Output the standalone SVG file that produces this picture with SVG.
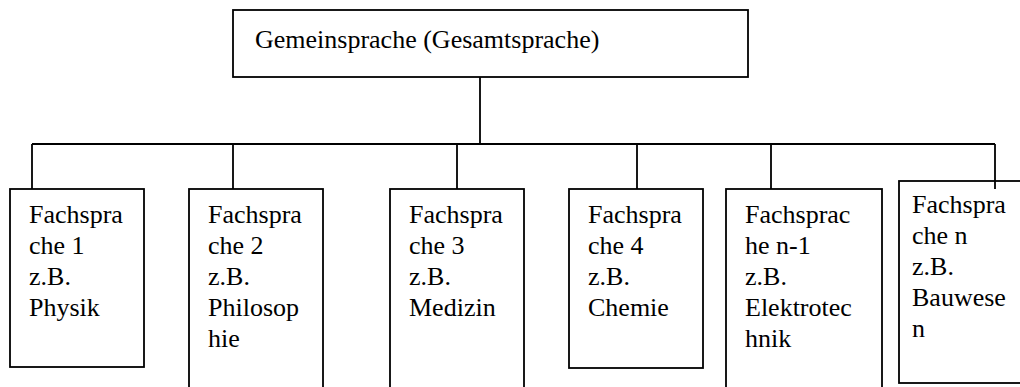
<svg xmlns="http://www.w3.org/2000/svg" width="1020" height="387" viewBox="0 0 1020 387">
<style>
.box{fill:#fff;stroke:#000;stroke-width:1.8}
.ln{fill:none;stroke:#000;stroke-width:1.8}
.t{font-family:'Liberation Serif','DejaVu Serif','Times New Roman',serif;font-size:26px;fill:#000}
</style>
<rect width="1020" height="387" fill="#fff"/>
<g id="connectors">
<path class="ln" d="M480 77V144M32 144H995M32 144V189M233 144V189M457 144V189M637 144V189M771 144V189M995 144V189"/>
</g>
<g id="root">
<rect class="box" x="233" y="10" width="515" height="67"/>
<text class="t" font-family="Liberation Serif, serif" x="255" y="48">Gemeinsprache (Gesamtsprache)</text>
</g>
<g id="n1" class="t" font-family="Liberation Serif, serif">
<rect class="box" x="10" y="189" width="134" height="178"/>
<text x="29" y="223">Fachspra</text><text x="29" y="254">che 1</text><text x="29" y="285">z.B.</text><text x="29" y="316">Physik</text>
</g>
<g id="n2" class="t" font-family="Liberation Serif, serif">
<rect class="box" x="189" y="189" width="134" height="210"/>
<text x="208" y="223">Fachspra</text><text x="208" y="254">che 2</text><text x="208" y="285">z.B.</text><text x="208" y="316">Philosop</text><text x="208" y="347">hie</text>
</g>
<g id="n3" class="t" font-family="Liberation Serif, serif">
<rect class="box" x="390" y="189" width="134" height="210"/>
<text x="409" y="223">Fachspra</text><text x="409" y="254">che 3</text><text x="409" y="285">z.B.</text><text x="409" y="316">Medizin</text>
</g>
<g id="n4" class="t" font-family="Liberation Serif, serif">
<rect class="box" x="569" y="189" width="134" height="179"/>
<text x="588" y="223">Fachspra</text><text x="588" y="254">che 4</text><text x="588" y="285">z.B.</text><text x="588" y="316">Chemie</text>
</g>
<g id="n5" class="t" font-family="Liberation Serif, serif">
<rect class="box" x="726" y="189" width="156" height="210"/>
<text x="745" y="223">Fachsprac</text><text x="745" y="254">he n-1</text><text x="745" y="285">z.B.</text><text x="745" y="316">Elektrotec</text><text x="745" y="347">hnik</text>
</g>
<g id="n6" class="t" font-family="Liberation Serif, serif">
<rect class="box" x="899" y="181" width="140" height="202"/>
<text x="912" y="213">Fachspra</text><text x="912" y="244">che n</text><text x="912" y="275">z.B.</text><text x="912" y="306">Bauwese</text><text x="912" y="337">n</text>
<path class="ln" d="M995 181V189"/>
</g>
</svg>
